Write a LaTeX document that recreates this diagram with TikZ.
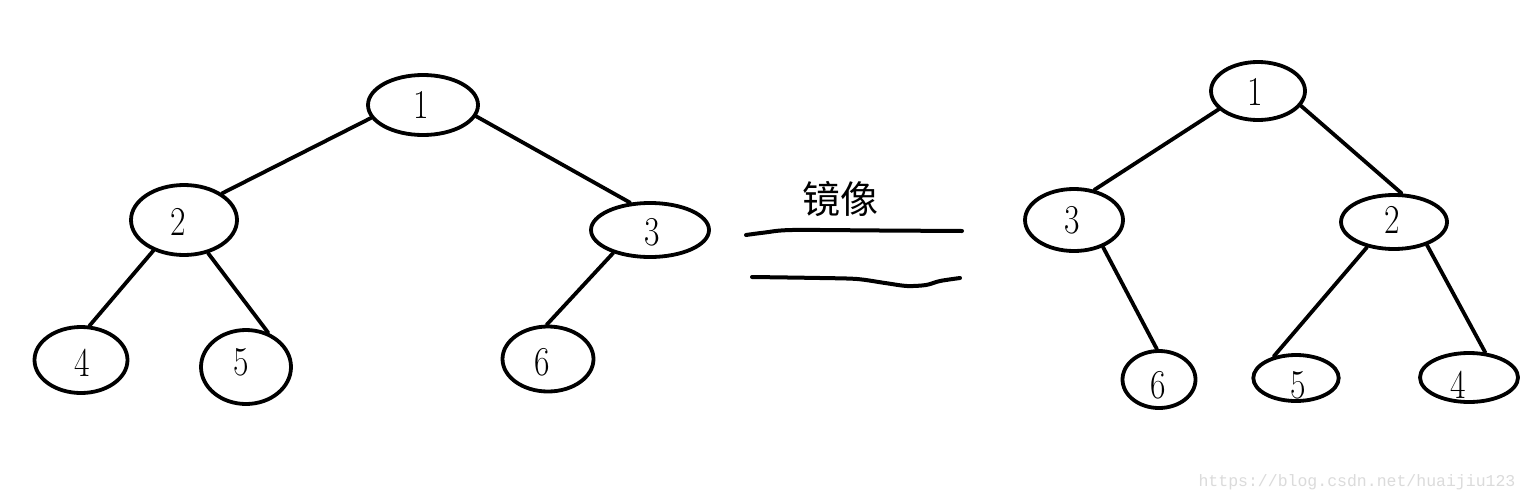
\documentclass[tikz,border=0pt]{standalone}
\usepackage{fontspec}
\usepackage{graphicx}
\newfontfamily\cjk{Noto Sans CJK SC}
\newfontfamily\wmfont{Liberation Mono}
\usetikzlibrary{shapes.geometric}
\tikzset{
  ell/.style={ellipse, draw, line width=1.9pt, inner sep=0pt},
  lbl/.style={inner sep=0pt, font=\fontsize{20.5}{24}\selectfont},
  edge/.style={line width=1.9pt, line cap=round},
  stroke/.style={line width=2pt, line cap=round, line join=round},
}
\newcommand{\dg}[1]{\scalebox{0.82}[1]{#1}}
\begin{document}
\begin{tikzpicture}[x=0.5pt, y=-0.5pt]
\useasboundingbox (0,0) rectangle (1529,503);
\fill[white] (0,0) rectangle (1529,503);

% ---------- left tree ----------
\node[ell, minimum width=55pt,   minimum height=30pt]   (a1) at (423,105) {};
\node[ell, minimum width=53pt,   minimum height=35pt]   (a2) at (184,220) {};
\node[ell, minimum width=59pt,   minimum height=27pt]   (a3) at (650,230) {};
\node[ell, minimum width=46.5pt, minimum height=33pt]   (a4) at (81,360) {};
\node[ell, minimum width=45pt,   minimum height=37pt]   (a5) at (246,367) {};
\node[ell, minimum width=45.5pt, minimum height=32.5pt] (a6) at (548,359) {};

\node[lbl] (ta1) at (421,105) {\dg{1}};
\node[lbl] (ta2) at (178,222) {\dg{2}};
\node[lbl] (ta3) at (652,232) {\dg{3}};
\node[lbl] (ta4) at (82,363) {\dg{4}};
\node[lbl] (ta5) at (241,362.5) {\dg{5}};
\node[lbl] (ta6) at (542,362.5) {\dg{6}};

\draw[edge] (a1.194.6) -- (a2.35);
\draw[edge] (a1.348) -- (a3.126.5);
\draw[edge] (a2.225) -- (a4.76);
\draw[edge] (a2.306) -- (a5.57);
\draw[edge] (a3.212.6) -- (a6.92);

% ---------- middle ----------
\node[inner sep=0pt, font=\cjk\fontsize{19}{22}\selectfont] (mir) at (840,199) {镜像};
\coordinate (u0) at (746,235);
\coordinate (u1) at (962,231);
\coordinate (v0) at (752,277);
\coordinate (v1) at (960,278);
\draw[stroke] plot[smooth, tension=0.5] coordinates {(u0) (765,232.5) (792,230) (880,230.5) (u1)};
\draw[stroke] plot[smooth, tension=0.5] coordinates {(v0) (820,278) (857,279) (885,283) (907,286) (926,285) (940,281) (v1)};

% ---------- right tree ----------
\node[ell, minimum width=47pt,   minimum height=29pt]   (b1) at (1258,91) {};
\node[ell, minimum width=49pt,   minimum height=31pt]   (b3) at (1074,220) {};
\node[ell, minimum width=53pt,   minimum height=27pt]   (b2) at (1394,222) {};
\node[ell, minimum width=36.5pt, minimum height=28.5pt] (b6) at (1159,379.5) {};
\node[ell, minimum width=42.7pt, minimum height=23pt]   (b5) at (1296,378) {};
\node[ell, minimum width=49pt,   minimum height=24.5pt] (b4) at (1469,377.5) {};

\node[lbl] (tb1) at (1255,91.7) {\dg{1}};
\node[lbl] (tb3) at (1071.7,220) {\dg{3}};
\node[lbl] (tb2) at (1391.7,220.3) {\dg{2}};
\node[lbl] (tb6) at (1157.7,385) {\dg{6}};
\node[lbl] (tb5) at (1297.8,385) {\dg{5}};
\node[lbl] (tb4) at (1457.8,385) {\dg{4}};

\draw[edge] (b1.205.4) -- (b3.56);
\draw[edge] (b1.341) -- (b2.75);
\draw[edge] (b3.317) -- (b6.94);
\draw[edge] (b2.223) -- (b5.136);
\draw[edge] (b2.325) -- (b4.57);

% ---------- watermark ----------
\node[inner sep=0pt, text=black!14, font=\wmfont\fontsize{8.25}{10}\selectfont] (wm) at (1357,482) {https://blog.csdn.net/huaijiu123};
\end{tikzpicture}
\end{document}
